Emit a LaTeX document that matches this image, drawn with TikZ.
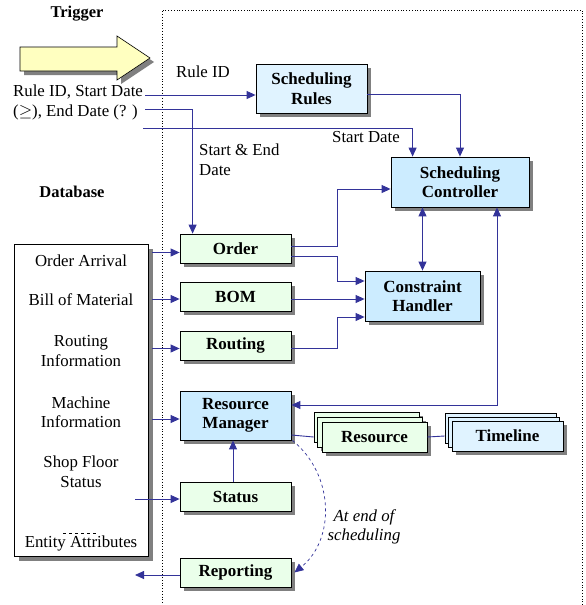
\documentclass[tikz,border=0pt]{standalone}
\usepackage{fontspec}
\setmainfont{Liberation Serif}
\usetikzlibrary{positioning,arrows.meta,calc,shadows}
\definecolor{scLine}{RGB}{51,51,153}
\definecolor{scPale}{RGB}{224,243,255}
\definecolor{scBlue}{RGB}{204,236,255}
\definecolor{scGreen}{RGB}{234,255,234}
\definecolor{scYellow}{RGB}{255,255,192}
\definecolor{scShadow}{RGB}{128,128,128}
\tikzset{
    base/.style={font=\fontsize{16.8}{19.5}\selectfont, align=center},
    block/.style={base, rectangle, draw=black, line width=0.8pt, inner sep=0pt,
                  font=\fontsize{17}{19.5}\selectfont\bfseries,
                  drop shadow={opacity=1, fill=scShadow, shadow xshift=4pt, shadow yshift=-4pt}},
    ruleblock/.style={block, fill=scPale},
    coreblock/.style={block, fill=scBlue},
    datablock/.style={block, fill=scGreen, minimum width=111pt, minimum height=29pt},
    link/.style={-{Triangle[length=9pt,width=8pt]}, line width=0.9pt, color=scLine},
    biglink/.style={{Triangle[length=9pt,width=8pt]}-{Triangle[length=9pt,width=8pt]}, line width=0.9pt, color=scLine},
    wire/.style={line width=0.9pt, color=scLine},
    label/.style={base, inner sep=1pt}
}

\begin{document}
\begin{tikzpicture}[x=1pt, y=-1pt]
  \useasboundingbox (0,0) rectangle (586,605);

  % Frame of the scheduler
  \draw[dotted, line width=0.8pt] (582,605) -- (582,10) -- (162,10) -- (162,605);

  % Trigger
  \node[label, font=\fontsize{16.5}{19}\selectfont\bfseries] (trigger) at (77,14) {Trigger};
  \fill[scShadow, shift={(4,4)}] (20,47) -- (117,47) -- (117,36) -- (150,58) -- (117,80) -- (117,71) -- (20,71) -- cycle;
  \draw[fill=scYellow, line width=0.6pt] (20,47) -- (117,47) -- (117,36) -- (150,58) -- (117,80) -- (117,71) -- (20,71) -- cycle;
  \node[label, align=left, anchor=north west] (input) at (12,84) {Rule ID, Start Date\\(\(\geq\)), End Date (? )};
  \coordinate (in1) at (145,95);
  \coordinate (in2) at (145,109);
  \coordinate (in3) at (143,128);

  % Database
  \node[label, font=\fontsize{16.5}{19}\selectfont\bfseries] (dbtitle) at (72,192) {Database};
  \node[rectangle, draw=black, line width=0.8pt, fill=white, minimum width=134pt, minimum height=312pt,
        drop shadow={opacity=1, fill=scShadow, shadow xshift=5pt, shadow yshift=-5pt}] (db) at (81,400) {};
  \node[label] (dbOrder) at (81,261) {Order Arrival};
  \node[label] (dbBom) at (81,300) {Bill of Material};
  \node[label] (dbRouting) at (81,351) {Routing\\Information};
  \node[label] (dbMachine) at (81,412) {Machine\\Information};
  \node[label] (dbShop) at (81,471.5) {Shop Floor\\Status};
  \node[label] (dbEntity) at (81,543) {Entity Attributes};
  \draw[dashed, line width=0.6pt] (63,533) -- (98,533);
  \coordinate (dbx) at ($(db.east)+(4,0)$);

  % Scheduling blocks
  \node[ruleblock, minimum width=111pt, minimum height=49pt] (rules) at (311.5,88.5) {Scheduling\\Rules};
  \node[coreblock, minimum width=138pt, minimum height=50pt] (ctrl) at (460,182) {Scheduling\\Controller};
  \node[coreblock, minimum width=115pt, minimum height=50pt] (cons) at (422.5,296) {Constraint\\Handler};

  \node[datablock] (order) at (235.5,248.5) {Order};
  \node[datablock] (bom) at (235.5,296.5) {BOM};
  \node[datablock] (routing) at (235.5,345.5) {Routing};
  \node[coreblock, minimum width=111pt, minimum height=49pt] (resmgr) at (235.5,415.5) {Resource\\Manager};
  \node[datablock] (status) at (235.5,496.5) {Status};
  \node[datablock] (report) at (235.5,572.5) {Reporting};

  % Stacked entities
  \node[datablock, minimum width=105pt, minimum height=30pt] (resource3) at (366.5,427) {};
  \node[datablock, minimum width=105pt, minimum height=30pt] (resource2) at (369.5,432) {};
  \node[datablock, minimum width=105pt, minimum height=30pt] (resource) at (374.5,437) {Resource};
  \node[ruleblock, minimum width=111pt, minimum height=30pt] (timeline3) at (500.5,428) {};
  \node[ruleblock, minimum width=111pt, minimum height=30pt] (timeline2) at (503.5,432) {};
  \node[ruleblock, minimum width=111pt, minimum height=30pt] (timeline) at (507.5,436) {Timeline};

  % Trigger inputs
  \node[label] (lblRule) at (203,72) {Rule ID};
  \node[label, align=left, anchor=north west] (lblDates) at (198,143) {Start \& End\\Date};
  \node[label] (lblStart) at (366,137) {Start Date};
  \draw[link] (in1) -- (in1 -| rules.west);
  \draw[link] (in2) -| ($(order.north west)+(13,0)$);
  \draw[link] (in3) -| ($(ctrl.north west)+(22,0)$);
  \draw[link] ($(rules.east)+(0,5.5)$) -| (ctrl.north);

  % Data to handlers
  \draw[link] ($(order.east)+(0,-2.5)$) -- ++(46,0) |- ($(ctrl.west)+(0,7)$);
  \draw[link] ($(order.east)+(0,7.5)$) -- ++(46,0) |- ($(cons.west)+(0,-15)$);
  \draw[link] ($(bom.east)+(0,2.5)$) -- ($(cons.west)+(0,3)$);
  \draw[link] ($(routing.east)+(0,2.5)$) -- ++(46,0) |- ($(cons.west)+(0,21)$);
  \draw[biglink] (cons.north) -- (cons.north |- ctrl.south);
  \draw[biglink] ($(ctrl.south)+(37,0)$) |- ($(resmgr.east)+(0,-10.5)$);
  \draw[wire] ($(resmgr.east)+(0,19.5)$) -- (resource3.west |- resource.west);
  \draw[wire] (resource.east) -- (timeline3.west |- timeline.west);
  \draw[link] ($(status.north)+(-2.5,0)$) -- ($(resmgr.south)+(-2.5,0)$);

  % Database feeds
  \draw[link] ($(dbx |- order.west)+(0,4)$) -- ($(order.west)+(0,4)$);
  \draw[link] ($(dbx |- bom.west)+(0,2.5)$) -- ($(bom.west)+(0,2.5)$);
  \draw[link] ($(dbx |- routing.west)+(0,3)$) -- ($(routing.west)+(0,3)$);
  \draw[link] ($(dbx |- resmgr.west)+(0,3.5)$) -- ($(resmgr.west)+(0,3.5)$);
  \coordinate (shopOut) at (135,499);
  \draw[link] (shopOut) -- (shopOut -| status.west);
  \coordinate (reportOut) at (135,575);
  \draw[link] (reportOut -| report.west) -- (reportOut);

  % End of scheduling
  \draw[link, dashed, line width=0.7pt] ($(resmgr.south east)+(1,0)$) .. controls (335,475) and (335,540) .. ($(report.east)+(3,0)$);
  \node[label, font=\fontsize{16.8}{19.5}\selectfont\itshape] (lblEnd) at (364,527) {At end of\\scheduling};
\end{tikzpicture}
\end{document}
